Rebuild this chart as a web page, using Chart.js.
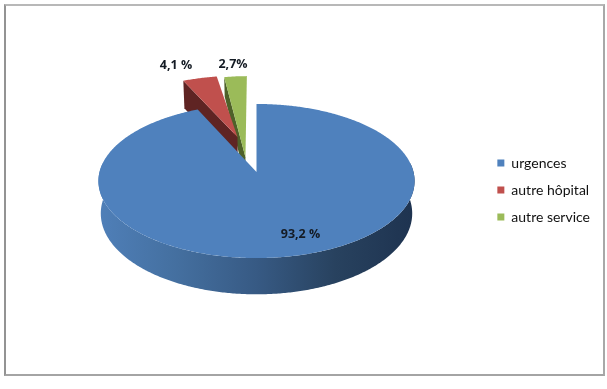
<!DOCTYPE html>
<html>
<head>
<meta charset="utf-8">
<script src="https://cdn.jsdelivr.net/npm/chart.js@4"></script>
<style>
  html, body { margin: 0; padding: 0; background: #fff; }
  #frame { position: absolute; left: 4px; top: 4px; width: 601px; height: 372px; box-sizing: border-box;
           border-style: solid; border-width: 2px;
           border-color: #b8b8b8 #a8a8a8 #a4a4a4 #939393; }
  #wrap { position: absolute; left: 0; top: 0; width: 607px; height: 389px; }
</style>
</head>
<body>
<div id="frame"></div>
<div id="wrap"><canvas id="chart" width="607" height="389"></canvas></div>
<script>
// Origin of admissions
const categories = ['urgences', 'autre hôpital', 'autre service'];
const shares = [93.2, 4.1, 2.7];
const valueLabels = ['93,2 %', '4,1 %', '2,7%'];
const faceColors = ['#4f81bd', '#c0504d', '#9bbb59'];
const cutColors = ['#2c4a70', '#5f2423', '#4e6129'];

// Tilted, receding view of the pie plane
const view = { cx: 256.5, cy: 172, rx: 157, ry: 76, recede: 0.117, depth: 32, lowerShrink: 0.985 };
// Where each wedge sits on the plane: [sideways, away], its length along the away axis, its thickness
const wedgeShift = [[0, 0], [-0.128, 0.487], [-0.072, 0.2]];
const wedgeStretch = [1, 1, 1.28];
const wedgeThickness = [1, 1, 0.72];
const labelSpots = [[300.5, 234], [176, 65], [233, 64]];
const drawOrder = [2, 1, 0];

function project(u, v, lift) {
  const s = 1 / (1 + view.recede * v);
  const x = view.cx + view.rx * u * s * (lift ? view.lowerShrink : 1);
  const y = view.cy - view.ry * v * s + lift * view.depth * s;
  return [x, y];
}

// Chart.js angles start at 3 o'clock; turn them into clockwise-from-top bearings
function rimPoint(i, angle, lower) {
  const b = angle + Math.PI / 2;
  const [du, dv] = wedgeShift[i];
  return project(du + Math.sin(b), dv + Math.cos(b) * wedgeStretch[i], lower ? wedgeThickness[i] : 0);
}
function apexPoint(i, lower) {
  return project(wedgeShift[i][0], wedgeShift[i][1], lower ? wedgeThickness[i] : 0);
}
function poly(ctx, pts, fill) {
  ctx.beginPath();
  pts.forEach((p, n) => n ? ctx.lineTo(p[0], p[1]) : ctx.moveTo(p[0], p[1]));
  ctx.closePath();
  ctx.fillStyle = fill;
  ctx.fill();
}
function sweep(i, a0, a1, lower) {
  const steps = Math.max(4, Math.ceil((a1 - a0) / 0.01));
  const pts = [];
  for (let k = 0; k <= steps; k++) pts.push(rimPoint(i, a0 + (a1 - a0) * k / steps, lower));
  return pts;
}

const pie3d = {
  id: 'pie3d',
  // The arcs keep their computed angles; the wedges are painted through the view above
  beforeDatasetDraw(chart, args) {
    const ctx = chart.ctx;
    const arcs = args.meta.data;
    ctx.save();
    drawOrder.forEach(i => {
      const { startAngle, endAngle } = arcs[i];
      const bStart = startAngle + Math.PI / 2, bEnd = endAngle + Math.PI / 2;
      // Cut faces that turn toward the viewer
      if (Math.sin(bStart) < -1e-6) {
        poly(ctx, [apexPoint(i, false), rimPoint(i, startAngle, false),
                   rimPoint(i, startAngle, true), apexPoint(i, true)], cutColors[i]);
      }
      if (Math.sin(bEnd) > 1e-6) {
        poly(ctx, [apexPoint(i, false), rimPoint(i, endAngle, false),
                   rimPoint(i, endAngle, true), apexPoint(i, true)], cutColors[i]);
      }
      // Outer wall on the near side
      const a0 = Math.max(startAngle, 0 - 0.12), a1 = Math.min(endAngle, Math.PI + 0.12);
      if (a1 > a0) {
        const g = ctx.createLinearGradient(view.cx - view.rx, 0, view.cx + view.rx, 0);
        g.addColorStop(0, '#4f7fb8');
        g.addColorStop(0.25, '#446f9f');
        g.addColorStop(0.5, '#375a84');
        g.addColorStop(0.75, '#28425f');
        g.addColorStop(1, '#1e3350');
        const top = sweep(i, a0, a1, false);
        const bottom = sweep(i, a0, a1, true).reverse();
        poly(ctx, top.concat(bottom), g);
      }
      // Top face
      poly(ctx, [apexPoint(i, false)].concat(sweep(i, startAngle, endAngle, false)), faceColors[i]);
    });
    ctx.restore();
    return false;
  },
  afterDatasetsDraw(chart) {
    const ctx = chart.ctx;
    ctx.save();
    ctx.font = 'bold 12.5px "Open Sans"';
    ctx.fillStyle = '#141b24';
    ctx.textAlign = 'center';
    ctx.textBaseline = 'middle';
    valueLabels.forEach((t, i) => ctx.fillText(t, labelSpots[i][0], labelSpots[i][1]));
    ctx.restore();
  }
};

new Chart(document.getElementById('chart'), {
  type: 'pie',
  data: {
    labels: categories,
    datasets: [{ data: shares, backgroundColor: faceColors, borderWidth: 0 }]
  },
  options: {
    responsive: false,
    animation: false,
    layout: { padding: { top: 4, bottom: 13, left: 0, right: 7 } },
    plugins: {
      tooltip: { enabled: false },
      legend: {
        position: 'right',
        labels: {
          boxWidth: 7, boxHeight: 7, padding: 13,
          color: '#111',
          font: { family: 'Lato', size: 14 }
        }
      }
    }
  },
  plugins: [pie3d]
});
</script>
</body>
</html>
